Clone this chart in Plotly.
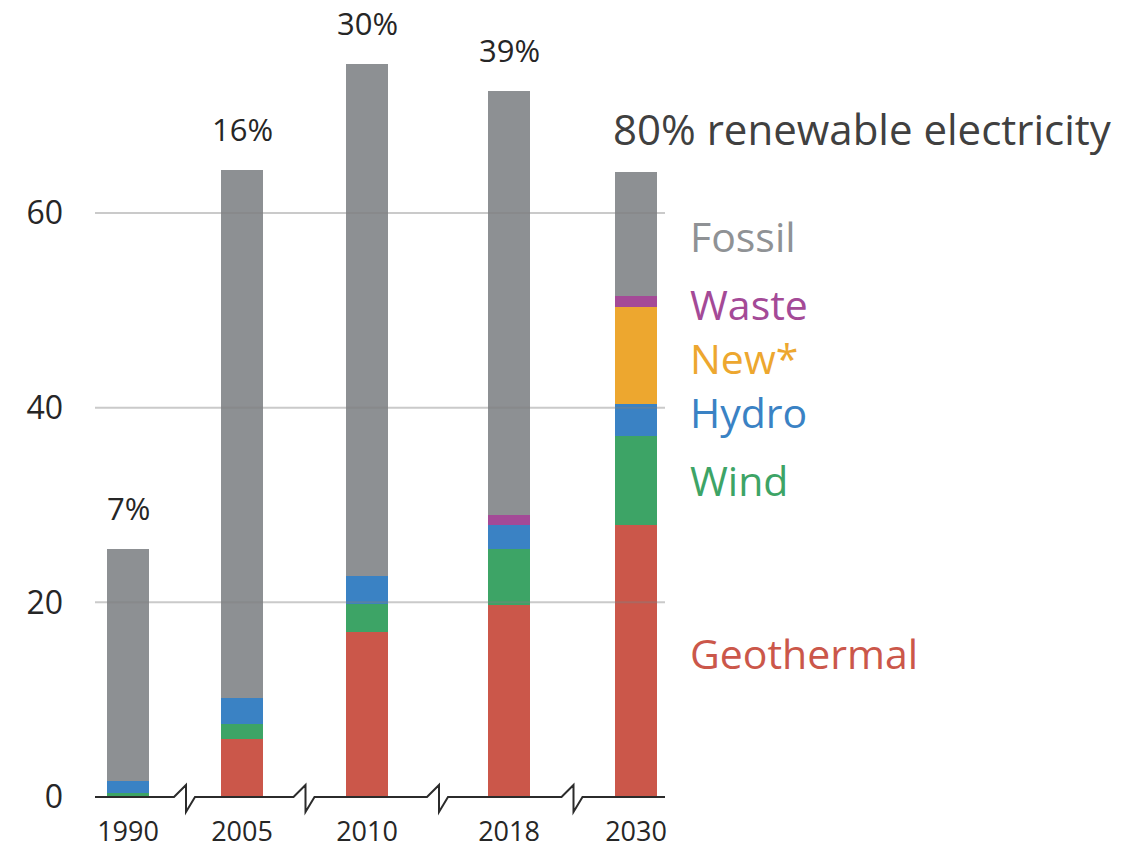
import plotly.graph_objects as go

# Electricity generation by source (stacked, TWh-scale units)
years = ["1990", "2005", "2010", "2018", "2030"]
geothermal = [0.2, 6.0, 17.0, 19.7, 28.0]
wind = [0.2, 1.5, 2.8, 5.8, 9.1]
hydro = [1.2, 2.7, 2.9, 2.5, 3.25]
new_sources = [0.0, 0.0, 0.0, 0.0, 10.05]
waste = [0.0, 0.0, 0.0, 1.0, 1.1]
fossil = [23.9, 54.2, 52.6, 43.6, 12.7]
renewable_share = ["7%", "16%", "30%", "39%"]
headline = "80% renewable electricity"
y_ticks = [0, 20, 40, 60]

# Slot centres along the broken x axis (gaps between periods differ)
slot_positions = [0.33, 1.47, 2.72, 4.14, 5.41]
x_range = [0, 5.7]
y_range = [0, 81.9]
bar_width = 0.42

series = [
    ("Geothermal", geothermal, "#CB574A", "#CB574A"),
    ("Wind", wind, "#3DA466", "#3DA466"),
    ("Hydro", hydro, "#3A82C4", "#3A82C4"),
    ("New*", new_sources, "#EDA72F", "#EDA72F"),
    ("Waste", waste, "#A44A97", "#A44A97"),
    ("Fossil", fossil, "#8D9093", "#8F9295"),
]

# Small vertical nudges (px) so the side labels don't crowd each other
label_nudge = {"Geothermal": 8, "Hydro": 8, "New*": -3, "Waste": -3, "Fossil": -2}

label_font = "Open Sans, DejaVu Sans, sans-serif"


def to_paper_x(v):
    return (v - x_range[0]) / (x_range[1] - x_range[0])


fig = go.Figure()
for name, vals, color, _ in series:
    fig.add_trace(go.Bar(
        x=slot_positions, y=vals, width=bar_width, name=name,
        marker=dict(color=color, line=dict(width=0)),
        showlegend=False, hoverinfo="name+y",
    ))

totals = [sum(s[1][i] for s in series) for i in range(len(years))]

annotations = []
# Renewable share above each historical bar
for i, txt in enumerate(renewable_share):
    annotations.append(dict(
        x=slot_positions[i], y=totals[i], xref="x", yref="y",
        text=txt, showarrow=False, yanchor="middle", yshift=41,
        font=dict(family=label_font, size=31, color="#262626"),
    ))

# Series labels beside the last bar, at the middle of each segment
last = len(years) - 1
cum = 0.0
label_x = to_paper_x(slot_positions[last] + 0.52)
for name, vals, _, text_color in series:
    mid = cum + vals[last] / 2
    cum += vals[last]
    annotations.append(dict(
        x=label_x, y=mid, xref="paper", yref="y", text=name, showarrow=False,
        xanchor="left", yanchor="middle", yshift=label_nudge.get(name, 0),
        font=dict(family=label_font, size=41, color=text_color),
    ))

annotations.append(dict(
    x=to_paper_x(slot_positions[last] - 0.25), y=68.7, xref="paper", yref="y",
    text=headline, showarrow=False, xanchor="left", yanchor="middle",
    font=dict(family=label_font, size=42, color="#404040"),
))

shapes = []
# Gridlines drawn over the bars
for t in y_ticks[1:]:
    shapes.append(dict(
        type="line", xref="paper", yref="y", x0=0, x1=1, y0=t, y1=t,
        line=dict(color="rgba(128,128,128,0.42)", width=2), layer="above",
    ))

# Baseline with break marks between periods
px_per_unit = 570 / (x_range[1] - x_range[0])
up = 12 / 797
down = -15 / 797
path = f"M {x_range[0]},0"
for a, b in zip(slot_positions[:-1], slot_positions[1:]):
    m = (a + b) / 2
    path += (f" L {m - 11 / px_per_unit},0"
             f" L {m + 1 / px_per_unit},{up}"
             f" L {m + 1 / px_per_unit},{down}"
             f" L {m + 10 / px_per_unit},0")
path += f" L {x_range[1]},0"
shapes.append(dict(
    type="path", xref="x", yref="paper", path=path,
    line=dict(color="#2B2B2B", width=2), layer="above",
))

fig.update_layout(
    width=1127, height=849,
    margin=dict(l=95, r=462, t=0, b=52),
    barmode="stack",
    plot_bgcolor="white", paper_bgcolor="white",
    annotations=annotations, shapes=shapes,
    xaxis=dict(
        range=x_range, tickvals=slot_positions, ticktext=years,
        showgrid=False, zeroline=False, showline=False, ticks="",
        ticklabelstandoff=16, automargin=False,
        tickfont=dict(family=label_font, size=27, color="#262626"),
    ),
    yaxis=dict(
        range=y_range, tickvals=y_ticks, showgrid=False, zeroline=False,
        showline=False, ticks="", ticklabelstandoff=31, automargin=False,
        tickfont=dict(family=label_font, size=32, color="#262626"),
    ),
)

fig.write_html("out.html")
